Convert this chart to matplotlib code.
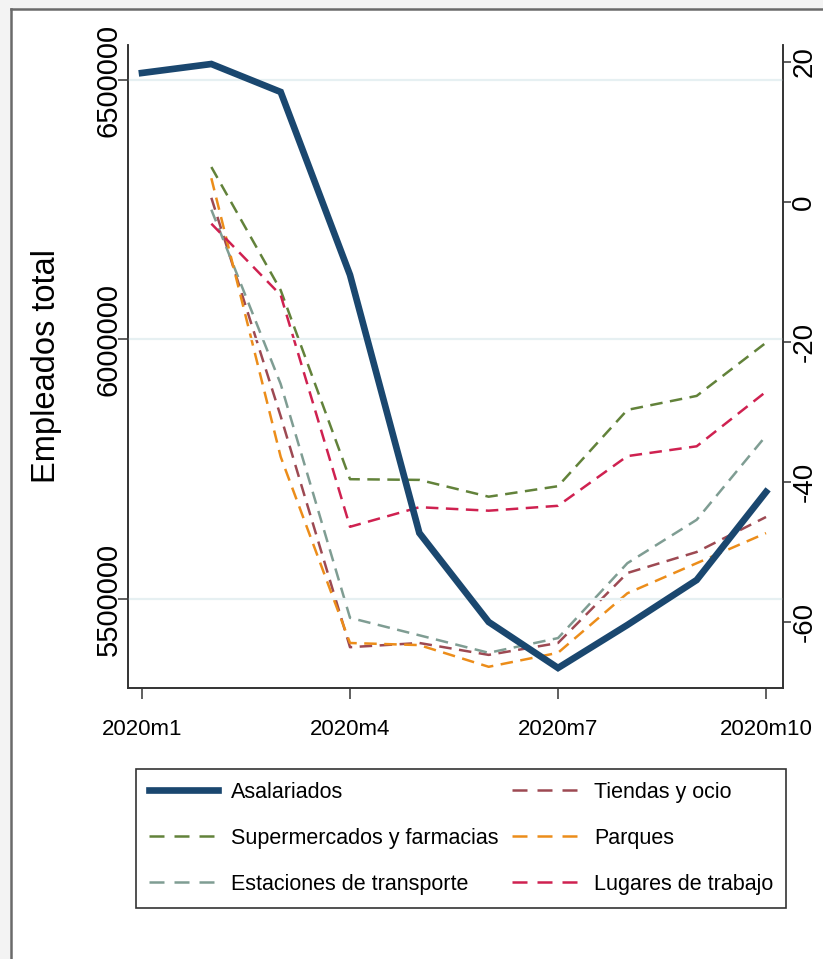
import numpy as np
import matplotlib
matplotlib.use('Agg')
import matplotlib.pyplot as plt
from matplotlib import font_manager
from matplotlib.lines import Line2D
from matplotlib.patches import Rectangle

# datos
meses = [1, 2, 3, 4, 5, 6, 7, 8, 9, 10]
asalariados = [6513500, 6530800, 6476900, 6124300, 5627200,
               5455700, 5367100, 5449900, 5536600, 5706200]
supermercados = [np.nan, 5.0, -12.6, -39.6, -39.7, -42.1, -40.6, -29.7, -27.7, -20.1]
estaciones = [np.nan, -1.1, -26.0, -59.4, -61.9, -64.4, -62.3, -51.6, -45.4, -33.4]
tiendas = [np.nan, 0.6, -30.6, -63.6, -63.0, -64.7, -63.0, -53.0, -50.0, -45.0]
parques = [np.nan, 3.4, -36.4, -63.0, -63.3, -66.4, -64.4, -55.9, -51.6, -47.3]
lugares = [np.nan, -3.1, -13.3, -46.4, -43.6, -44.1, -43.4, -36.3, -34.9, -27.1]

xticks = [1, 4, 7, 10]
xlabels = ['2020m1', '2020m4', '2020m7', '2020m10']
yticks_izq = [5500000, 6000000, 6500000]
yticks_der = [-60, -40, -20, 0, 20]

plt.rcParams['axes.unicode_minus'] = False

nombres = [f.name for f in font_manager.fontManager.ttflist]
if 'Liberation Sans Narrow' in nombres:
    fuente_narrow = ['Liberation Sans Narrow', 'Liberation Sans']
    tam_ticks, tam_leg = 19, 18.5
else:
    fuente_narrow = ['Liberation Sans']
    tam_ticks, tam_leg = 16, 15.5
fuente = ['Liberation Sans', 'DejaVu Sans']

fig = plt.figure(figsize=(8.23, 9.59), dpi=100)
fig.patch.set_facecolor('#f3f3f3')
W, H = 823, 959
fig.add_artist(Rectangle((11 / W, 0), 1, 1 - 9 / H, transform=fig.transFigure,
                         facecolor='white', edgecolor='none', zorder=0))
fig.add_artist(Line2D([11 / W, 1], [1 - 9 / H, 1 - 9 / H], transform=fig.transFigure,
                      color='#6a6a6a', lw=1.8))
fig.add_artist(Line2D([11 / W, 11 / W], [0, 1 - 9 / H], transform=fig.transFigure,
                      color='#6a6a6a', lw=1.8))

ax = fig.add_axes([128 / W, 1 - 688 / H, (783 - 128) / W, (688 - 45) / H])
ax2 = ax.twinx()

verde = '#62823a'
gris = '#7f9d93'
marron = '#9d4952'
naranja = '#ec8d1a'
rojo = '#cf2150'
azul = '#1a476f'

dash = (5, 3)
lw = 1.8
ax2.plot(meses, tiendas, color=marron, lw=lw, dashes=dash)
ax2.plot(meses, estaciones, color=gris, lw=lw, dashes=dash)
ax2.plot(meses, parques, color=naranja, lw=lw, dashes=dash)
ax2.plot(meses, supermercados, color=verde, lw=lw, dashes=dash)
ax2.plot(meses, lugares, color=rojo, lw=lw, dashes=dash)
ax.plot(meses, asalariados, color=azul, lw=4.8, solid_joinstyle='miter')

ax.set_zorder(ax2.get_zorder() + 1)
ax.patch.set_visible(False)

ax.set_xlim(0.798, 10.245)
ax.set_ylim(5328500, 6567400)
ax2.set_ylim(-69.43, 22.43)

ax.set_yticks(yticks_izq)
ax.set_yticklabels([str(v) for v in yticks_izq], rotation=90, va='center',
                   fontsize=21, family=fuente)
ax2.set_yticks(yticks_der)
ax2.set_yticklabels([str(v) for v in yticks_der], rotation=90, va='center',
                    fontsize=20, family=fuente)
ax.set_xticks(xticks)
ax.set_xticklabels(xlabels, fontsize=tam_ticks, family=fuente_narrow)

for a in (ax, ax2):
    a.spines['top'].set_visible(False)
    for s in ('left', 'right', 'bottom'):
        a.spines[s].set_color('#333333')
        a.spines[s].set_linewidth(1.2)
ax.tick_params(axis='y', length=7, width=1.2, color='#444444', pad=-3)
ax2.tick_params(axis='y', length=6, width=1.2, color='#444444', pad=0)
ax.tick_params(axis='x', length=8, width=1.2, color='#444444', pad=14)

ax.grid(axis='y', color='#e6f0f2', lw=1.6)
ax.set_axisbelow(True)
ax.set_ylabel('Empleados total', fontsize=23.5, family=fuente)
ax.yaxis.set_label_coords(-0.10, 0.5)

handles = [
    Line2D([], [], color=azul, lw=4.8),
    Line2D([], [], color=verde, lw=lw, dashes=(6, 4)),
    Line2D([], [], color=gris, lw=lw, dashes=(6, 4)),
    Line2D([], [], color=marron, lw=lw, dashes=(6, 4)),
    Line2D([], [], color=naranja, lw=lw, dashes=(6, 4)),
    Line2D([], [], color=rojo, lw=lw, dashes=(6, 4)),
]
etiquetas = ['Asalariados', 'Supermercados y farmacias', 'Estaciones de transporte',
             'Tiendas y ocio', 'Parques', 'Lugares de trabajo']
leg = fig.legend(handles, etiquetas, ncol=2, loc='upper left',
                 bbox_to_anchor=(136 / W, 1 - 769 / H), borderaxespad=0,
                 fancybox=False, edgecolor='#333333', framealpha=1,
                 prop={'family': fuente_narrow, 'size': tam_leg},
                 handlelength=3.2, handletextpad=0.6, columnspacing=0.65,
                 labelspacing=1.16, borderpad=0.6)
leg.get_frame().set_linewidth(1.2)

fig.savefig('out.png', dpi=100, facecolor=fig.get_facecolor())
